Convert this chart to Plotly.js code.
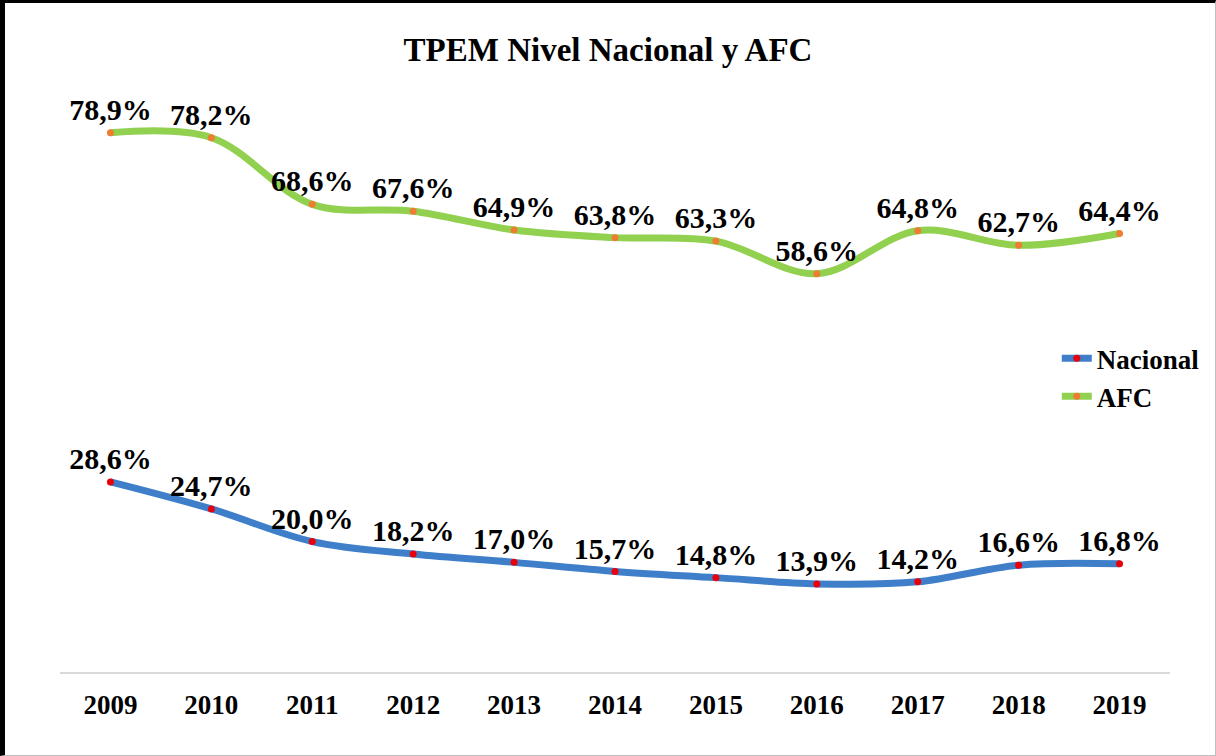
<!DOCTYPE html>
<html>
<head>
<meta charset="utf-8">
<script src="https://cdn.plot.ly/plotly-3.0.1.min.js"></script>
<style>
html,body{margin:0;padding:0;background:#fff;}
#wrap{position:relative;width:1216px;height:756px;}
#chart{width:1216px;height:756px;}
#frame{position:absolute;left:0;top:0;width:1216px;height:756px;box-sizing:border-box;
border-left:5px solid #000;border-top:3px solid #000;border-right:1px solid #bfbfbf;border-bottom:1px solid #bfbfbf;pointer-events:none;}
</style>
</head>
<body>
<div id="wrap"><div id="chart"></div><div id="frame"></div></div>
<script>
const years = ['2009','2010','2011','2012','2013','2014','2015','2016','2017','2018','2019'];
const nacional = [28.6,24.7,20.0,18.2,17.0,15.7,14.8,13.9,14.2,16.6,16.8];
const afc = [78.9,78.2,68.6,67.6,64.9,63.8,63.3,58.6,64.8,62.7,64.4];

const serif = 'Liberation Serif, Times New Roman, serif';
const labelFont = {family: serif, size: 30, color: '#000', weight: 'bold'};

const traces = [
  {
    x: years, y: nacional, name: '<b>Nacional</b>', type: 'scatter', mode: 'lines+markers+text',
    line: {color: '#3f7fca', width: 7, shape: 'spline', smoothing: 1},
    marker: {color: '#e8000b', size: 7},
    texttemplate: '<b>%{y:.1f}%</b>', textposition: 'top center', textfont: labelFont,
    cliponaxis: false
  },
  {
    x: years, y: afc, name: '<b>AFC</b>', type: 'scatter', mode: 'lines+markers+text',
    line: {color: '#92d050', width: 7, shape: 'spline', smoothing: 1},
    marker: {color: '#ed7d31', size: 7},
    texttemplate: '<b>%{y:.1f}%</b>', textposition: 'top center', textfont: labelFont,
    cliponaxis: false
  }
];

const layout = {
  width: 1216, height: 756,
  margin: {l: 60, r: 46, t: 60, b: 84, autoexpand: false},
  paper_bgcolor: '#fff', plot_bgcolor: '#fff',
  separators: ',.',
  title: {text: '<b>TPEM Nivel Nacional y AFC</b>', x: 0.5, xanchor: 'center', y: 0.935, yanchor: 'middle',
          font: {family: serif, size: 33, color: '#000'}},
  xaxis: {type: 'category', range: [-0.5, 10.5], showgrid: false, zeroline: false,
          showline: true, linecolor: '#d9d9d9', linewidth: 2, ticks: '',
          tickfont: {family: serif, size: 27, color: '#000', weight: 'bold'}, ticklabelstandoff: 8},
  yaxis: {range: [1.2, 89.4], visible: false, showgrid: false, zeroline: false},
  showlegend: true,
  legend: {x: 0.898, y: 0.552, xanchor: 'left', yanchor: 'top', bgcolor: 'rgba(0,0,0,0)',
           font: {family: serif, size: 27, color: '#000'}, itemwidth: 30, tracegroupgap: 4}
};

Plotly.newPlot('chart', traces, layout, {displayModeBar: false, staticPlot: true});
</script>
</body>
</html>
